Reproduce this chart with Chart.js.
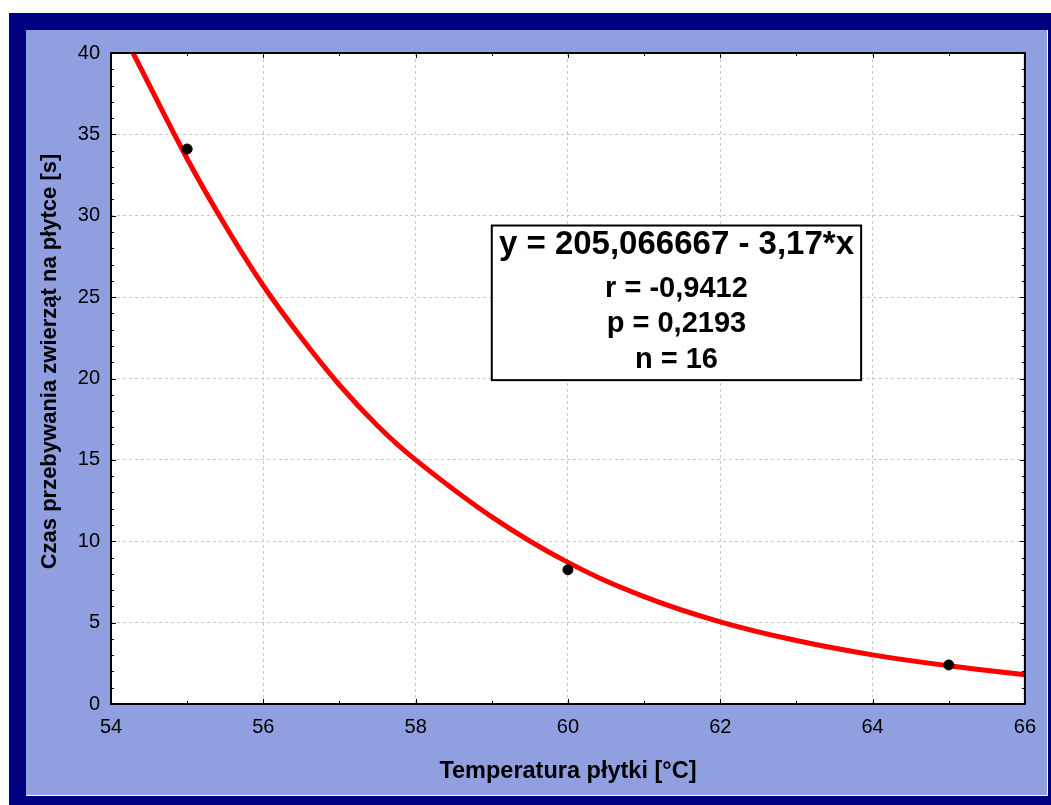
<!DOCTYPE html>
<html>
<head>
<meta charset="utf-8">
<script src="https://cdn.jsdelivr.net/npm/chart.js@4"></script>
<style>
  body { margin: 0; background: #fff; }
  #frame { position: absolute; left: 9px; top: 13px; width: 1042px; height: 792px; background: #000080; }
  #panel { position: absolute; left: 26px; top: 30px; width: 1021px; height: 765px; background: #8f9fe0;
           border-right: 1px solid #fff; border-bottom: 1px solid #fff; }
  canvas { display: block; }
</style>
</head>
<body>
<div id="frame"></div>
<div id="panel"><canvas id="myChart" width="1021" height="765"></canvas></div>
<script>
// measured points
const tempX = [55, 60, 65];
const timeY = [34.1, 8.25, 2.4];

// fitted curve
const curveX = [54.29, 55, 55.5, 56, 56.5, 57, 57.5, 58, 59, 60, 61, 62, 63, 64, 65, 66];
const curveY = [40, 33.5, 29.4, 25.7, 22.5, 19.6, 17.1, 15.0, 11.5, 8.7, 6.6, 5.05, 3.9, 3.02, 2.35, 1.8];

const statLines = ["y = 205,066667 - 3,17*x", "r = -0,9412", "p = 0,2193", "n = 16"];

const xTitle = "Temperatura płytki [°C]";
const yTitle = "Czas przebywania zwierząt na płytce [s]";

const FONT = "'Liberation Sans', Arial, sans-serif";

// white plot area
const plotBg = {
  id: "plotBg",
  beforeDraw(chart) {
    const { ctx, chartArea: a } = chart;
    ctx.save();
    ctx.fillStyle = "#fff";
    ctx.fillRect(a.left, a.top, a.right - a.left, a.bottom - a.top);
    ctx.restore();
  }
};

// frame + inward ticks on all sides, y title, stats box
const frameTicks = {
  id: "frameTicks",
  afterDatasetsDraw(chart) {
    const { ctx, chartArea: a, scales: { x, y } } = chart;
    ctx.save();
    ctx.strokeStyle = "#000";
    ctx.lineWidth = 1;
    for (let v = x.min; v <= x.max; v += 1) {
      const px = Math.round(x.getPixelForValue(v)) + 0.5;
      const len = v % 2 === 0 ? 5 : 3;
      ctx.beginPath();
      ctx.moveTo(px, a.bottom); ctx.lineTo(px, a.bottom - len);
      ctx.moveTo(px, a.top); ctx.lineTo(px, a.top + len);
      ctx.stroke();
    }
    for (let v = y.min; v <= y.max; v += 1) {
      const py = Math.round(y.getPixelForValue(v)) + 0.5;
      const len = v % 5 === 0 ? 5 : 3;
      ctx.beginPath();
      ctx.moveTo(a.left, py); ctx.lineTo(a.left + len, py);
      ctx.moveTo(a.right, py); ctx.lineTo(a.right - len, py);
      ctx.stroke();
    }
    ctx.lineWidth = 2;
    ctx.strokeRect(a.left, a.top, a.right - a.left, a.bottom - a.top);

    // y axis title (sits a bit above the centre in the original)
    ctx.fillStyle = "#000";
    ctx.textAlign = "center";
    ctx.textBaseline = "middle";
    ctx.font = "bold 22px " + FONT;
    ctx.save();
    ctx.translate(24, (a.top + a.bottom) / 2 - 17);
    ctx.rotate(-Math.PI / 2);
    ctx.fillText(yTitle, 0, 0);
    ctx.restore();

    // regression box
    const bx1 = x.getPixelForValue(59.0), bx2 = x.getPixelForValue(63.85);
    const by1 = y.getPixelForValue(29.4), by2 = y.getPixelForValue(19.9);
    ctx.fillStyle = "#fff";
    ctx.fillRect(bx1, by1, bx2 - bx1, by2 - by1);
    ctx.strokeRect(bx1, by1, bx2 - bx1, by2 - by1);
    ctx.fillStyle = "#000";
    const cx = (bx1 + bx2) / 2;
    const rows = [by1 + 19, by1 + 63, by1 + 98, by1 + 134];
    statLines.forEach((t, i) => {
      ctx.font = "bold " + (i === 0 ? 33 : 29) + "px " + FONT;
      ctx.fillText(t, cx, rows[i]);
    });
    ctx.restore();
  }
};

const config = {
  type: "scatter",
  data: {
    datasets: [
      {
        data: tempX.map((v, i) => ({ x: v, y: timeY[i] })),
        backgroundColor: "#000",
        borderColor: "#000",
        pointRadius: 5,
        pointHoverRadius: 5,
        order: 0
      },
      {
        data: curveX.map((v, i) => ({ x: v, y: curveY[i] })),
        showLine: true,
        borderColor: "#ff0000",
        borderWidth: 5,
        tension: 0.4,
        pointRadius: 0,
        order: 1
      }
    ]
  },
  options: {
    responsive: false,
    animation: false,
    devicePixelRatio: 1,
    layout: { padding: { top: 19, right: 21, left: 0, bottom: 0 } },
    plugins: { legend: { display: false }, tooltip: { enabled: false } },
    scales: {
      x: {
        min: 54, max: 66,
        afterFit: (s) => { s.height = 91; },
        ticks: { stepSize: 2, padding: 11, color: "#000", font: { family: FONT, size: 20 } },
        grid: { color: "#c8c8c8", drawTicks: false },
        border: { display: false, dash: [3, 3] },
        title: { display: true, text: xTitle, color: "#000", padding: { top: 0, bottom: 9 },
                 font: { family: FONT, size: 23.5, weight: "bold" } }
      },
      y: {
        min: 0, max: 40,
        afterFit: (s) => { s.width = 85; },
        ticks: { stepSize: 5, padding: 11, color: "#000", font: { family: FONT, size: 20 } },
        grid: { color: "#c8c8c8", drawTicks: false },
        border: { display: false, dash: [3, 3] },
        title: { display: false }
      }
    }
  },
  plugins: [plotBg, frameTicks]
};

const myChart = new Chart(document.getElementById("myChart"), config);
</script>
</body>
</html>
